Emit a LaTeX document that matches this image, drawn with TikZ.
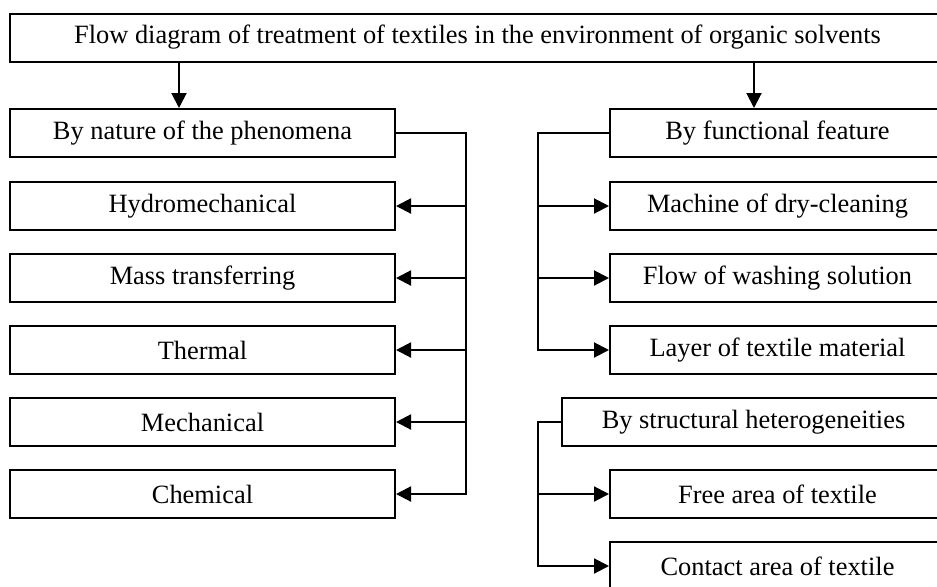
\documentclass[tikz,border=0pt]{standalone}
\usepackage{fontspec}
\setmainfont{Liberation Serif}
\usetikzlibrary{arrows.meta}

\begin{document}
\begin{tikzpicture}[
  x=0.5pt,y=-0.5pt,
  >={Triangle[length=7.5pt,width=7.5pt]},
  font=\fontsize{13.2}{15}\selectfont,
  box/.style={draw,line width=1pt,minimum width=#1,minimum height=24pt,
    inner sep=0pt,align=center},
  flow/.style={->,line width=1pt}]

  \useasboundingbox (0,0) rectangle (937,586);

  % ---- title ----
  \node[box=467.5pt] (title) at (477.5,37.5)
    {Flow diagram of treatment of textiles in the environment of organic solvents};
  \coordinate (ldrop) at (179,0);
  \coordinate (rdrop) at (754,0);
  \coordinate (lbus) at (466,0);
  \coordinate (rbus) at (538,0);

  % ---- left column ----
  \node[box=192.5pt] (nat) at (202.5,133) {By nature of the phenomena};
  \node[box=192.5pt] (hyd) at (202.5,206) {Hydromechanical};
  \node[box=192.5pt] (mass) at (202.5,278) {Mass transferring};
  \node[box=192.5pt] (therm) at (202.5,350) {Thermal};
  \node[box=192.5pt] (mech) at (202.5,422) {Mechanical};
  \node[box=192.5pt] (chem) at (202.5,494) {Chemical};

  \draw[flow] (title.south -| ldrop) -- (nat.north -| ldrop);
  \draw[flow] (nat.east) -| (lbus |- chem) -- (chem.east);
  \foreach \n in {hyd,mass,therm,mech}
    \draw[flow] (lbus |- \n.east) -- (\n.east);

  % ---- right column ----
  \node[box=167.5pt] (fun) at (777.5,133) {By functional feature};
  \node[box=167.5pt] (mach) at (777.5,206) {Machine of dry-cleaning};
  \node[box=167.5pt] (wash) at (777.5,278) {Flow of washing solution};
  \node[box=167.5pt] (layer) at (777.5,350) {Layer of textile material};
  \node[box=191.5pt] (struct) at (753.5,422) {By structural heterogeneities};
  \node[box=167.5pt] (free) at (777.5,494) {Free area of textile};
  \node[box=167.5pt] (cont) at (777.5,566) {Contact area of textile};

  \draw[flow] (title.south -| rdrop) -- (fun.north -| rdrop);
  \draw[flow] (fun.west) -| (rbus |- layer) -- (layer.west);
  \foreach \n in {mach,wash}
    \draw[flow] (rbus |- \n.west) -- (\n.west);
  \draw[flow] (struct.west) -| (rbus |- cont) -- (cont.west);
  \draw[flow] (rbus |- free.west) -- (free.west);
\end{tikzpicture}
\end{document}
